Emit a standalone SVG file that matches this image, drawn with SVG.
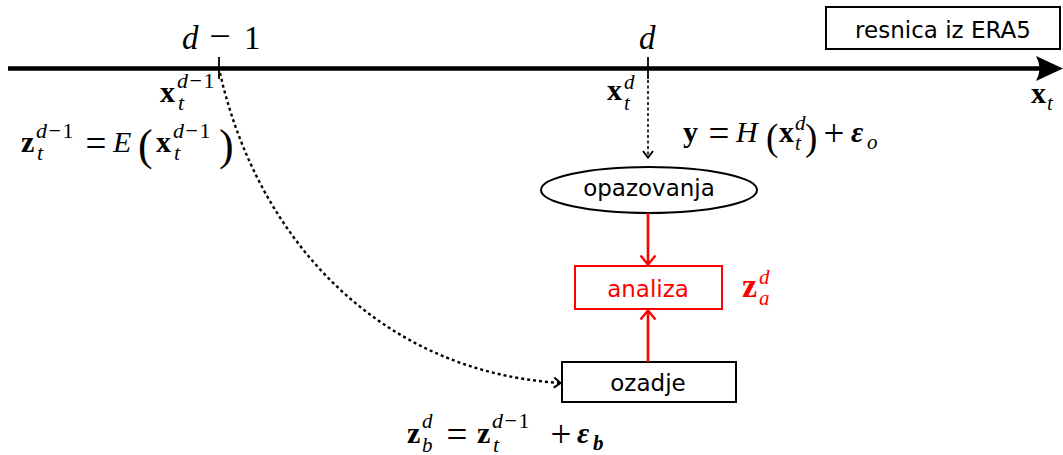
<svg xmlns="http://www.w3.org/2000/svg" width="1063" height="455" viewBox="0 0 1063 455">
<style>
.mb{font-family:"Liberation Serif",serif;font-weight:bold;font-size:30px}
.mi{font-family:"Liberation Serif",serif;font-style:italic;font-size:30px}
.mr{font-family:"Liberation Serif",serif;font-size:30px}
.mo{font-family:"Liberation Serif",serif;font-size:37px;text-anchor:middle}
.ms{font-family:"Liberation Serif",serif;font-size:22px}
.msi{font-family:"Liberation Serif",serif;font-size:21px;font-style:italic}
.msb{font-family:"Liberation Serif",serif;font-size:21px;font-style:italic;font-weight:bold}
.it{font-style:italic}
.up{font-style:normal}
.par{font-family:"Liberation Serif",serif;font-size:44px}
.lbl{font-family:"DejaVu Sans",sans-serif;font-size:23px;text-anchor:middle}
.red{fill:#ff0000}
.box{fill:#fff;stroke:#000;stroke-width:2}
</style>
<defs>
<marker id="vr" viewBox="0 0 12 18" refX="11" refY="9" markerWidth="12" markerHeight="18" markerUnits="userSpaceOnUse" orient="auto">
<path d="M1.5,1.5 L10.5,9 L1.5,16.5" fill="none" stroke="#ff0000" stroke-width="2.4" stroke-dasharray="none"/>
</marker>
<marker id="vb" viewBox="0 0 9 12" refX="8" refY="6" markerWidth="9" markerHeight="12" markerUnits="userSpaceOnUse" orient="auto">
<path d="M1,1 L7.5,6 L1,11" fill="none" stroke="#000" stroke-width="2" stroke-dasharray="none"/>
</marker>
</defs>
<rect width="1063" height="455" fill="#fff"/>

<g id="axis">
<line x1="8" y1="68.5" x2="1042" y2="68.5" stroke="#000" stroke-width="4.5"/>
<path d="M1063,68.5 L1036,56 Q1043,68.5 1036,81 Z" fill="#000"/>
<line x1="219" y1="57" x2="219" y2="79" stroke="#000" stroke-width="1.8"/>
<line x1="648" y1="57" x2="648" y2="79" stroke="#000" stroke-width="1.8"/>
<text class="mi" x="182" y="49" style="font-size:33px">d</text>
<text class="mr" x="220" y="49" text-anchor="middle" style="font-size:38px">−</text>
<text class="mr" x="244" y="49" style="font-size:33px">1</text>
<text class="mi" x="639" y="49" style="font-size:33px">d</text>
<text class="mb" x="1031" y="103">x</text>
<text class="msi" x="1047" y="110">t</text>
</g>

<g id="truth">
<rect class="box" x="826" y="7" width="234" height="42"/>
<text class="lbl" x="943" y="38">resnica iz ERA5</text>
</g>

<g id="xt-d-1">
<text class="mb" x="160" y="102">x</text>
<text class="ms" x="177" y="88"><tspan class="it">d</tspan><tspan dx="1.5">−</tspan><tspan dx="1.5">1</tspan><tspan class="it" x="178" y="110">t</tspan></text>
</g>

<g id="zt-d-1">
<text class="mb" x="21" y="152">z</text>
<text class="ms" x="36" y="138"><tspan class="it">d</tspan><tspan dx="1.5">−</tspan><tspan dx="1.5">1</tspan><tspan class="it" x="37" y="160">t</tspan></text>
<text class="mo" x="96" y="156">=</text>
<text class="mi" x="113" y="152">E</text>
<text class="par" x="138" y="160">(</text>
<text class="mb" x="156" y="152">x</text>
<text class="ms" x="173" y="138"><tspan class="it">d</tspan><tspan dx="1.5">−</tspan><tspan dx="1.5">1</tspan><tspan class="it" x="174" y="160">t</tspan></text>
<text class="par" x="219" y="160">)</text>
</g>

<g id="xt-d">
<text class="mb" x="607" y="100">x</text>
<text class="msi" x="624" y="89">d<tspan x="624" y="110">t</tspan></text>
</g>

<g id="obs-eq">
<text class="mb" x="683" y="142">y</text>
<text class="mo" x="719" y="146">=</text>
<text class="mi" x="736" y="142">H</text>
<text class="par" x="766" y="150" style="font-size:37px">(</text>
<text class="mb" x="779" y="142">x</text>
<text class="msi" x="795" y="130">d<tspan x="795" y="150">t</tspan></text>
<text class="par" x="805" y="150" style="font-size:37px">)</text>
<text class="mo" x="834" y="146">+</text>
<text class="mb" x="851" y="142" style="font-style:italic">ε</text>
<text class="msi" x="867" y="149">o</text>
</g>

<g id="opazovanja">
<ellipse cx="649" cy="190" rx="108" ry="23" fill="#fff" stroke="#000" stroke-width="2"/>
<text class="lbl" x="649" y="196">opazovanja</text>
</g>

<g id="analiza">
<rect x="575" y="266" width="147" height="43" fill="#fff" stroke="#ff0000" stroke-width="2"/>
<text class="lbl red" x="648" y="297">analiza</text>
<text class="mb red" x="742" y="297" style="font-size:34px">z</text>
<text class="msi red" x="759" y="284">d<tspan x="759" y="305">a</tspan></text>
</g>

<g id="ozadje">
<rect class="box" x="562" y="362" width="174" height="40" stroke="#222"/>
<text class="lbl" x="648" y="391">ozadje</text>
</g>

<g id="zb-eq">
<text class="mb" x="407" y="443">z</text>
<text class="msi" x="422" y="428">d<tspan x="422" y="452">b</tspan></text>
<text class="mo" x="457" y="447">=</text>
<text class="mb" x="477" y="443">z</text>
<text class="ms" x="492" y="428"><tspan class="it">d</tspan><tspan dx="1.5">−</tspan><tspan dx="1.5">1</tspan><tspan class="it" x="493" y="452">t</tspan></text>
<text class="mo" x="561" y="447">+</text>
<text class="mb" x="577" y="443" style="font-style:italic">ε</text>
<text class="msb" x="593" y="450">b</text>
</g>

<g id="connectors">
<line x1="648" y1="80" x2="648" y2="158" stroke="#000" stroke-width="1.6" stroke-dasharray="3 2.5" marker-end="url(#vb)"/>
<path d="M220,73 C258,240 380,372 561,383" fill="none" stroke="#000" stroke-width="2.4" stroke-dasharray="3 3" marker-end="url(#vb)"/>
<line x1="648" y1="213" x2="648" y2="265" stroke="#ff0000" stroke-width="2.6" marker-end="url(#vr)"/>
<line x1="648" y1="362" x2="648" y2="310" stroke="#ff0000" stroke-width="2.6" marker-end="url(#vr)"/>
</g>
</svg>
